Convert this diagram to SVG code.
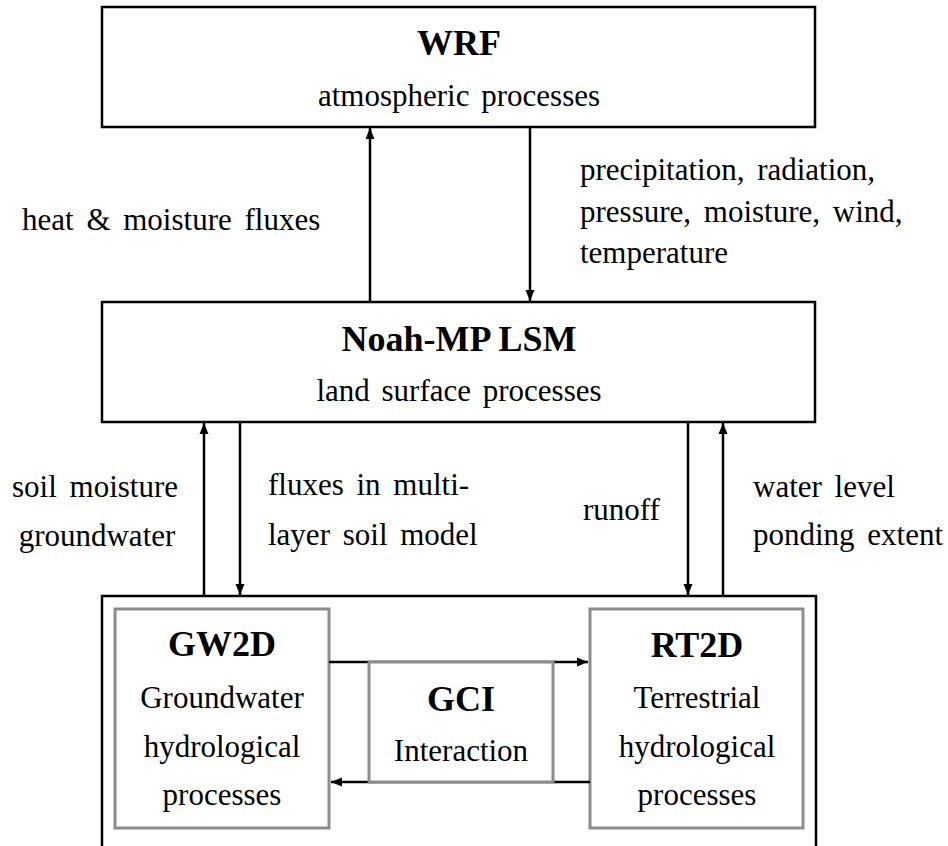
<svg xmlns="http://www.w3.org/2000/svg" width="948" height="846" viewBox="0 0 948 846">
<style>
  .box { fill: #fff; stroke: #000; stroke-width: 2.5; }
  .gbox { fill: #fff; stroke: #8c8c8c; stroke-width: 3; }
  .title { font-family: "Liberation Serif", Tinos, "Times New Roman", "DejaVu Serif", serif; font-weight: 700; font-size: 36px; fill: #000; text-anchor: middle; }
  .sub { font-family: "Liberation Serif", Tinos, "Times New Roman", "DejaVu Serif", serif; font-weight: 400; font-style: normal; font-size: 31px; fill: #000; text-anchor: middle; word-spacing: 4px; }
  .lbl { font-family: "Liberation Serif", Tinos, "Times New Roman", "DejaVu Serif", serif; font-weight: 400; font-style: normal; font-size: 31px; fill: #000; word-spacing: 5px; }
  .conn line { stroke: #000; stroke-width: 2.5; fill: none; }
</style>
<defs>
  <marker id="ah" markerUnits="userSpaceOnUse" markerWidth="12" markerHeight="10" refX="11" refY="5" orient="auto">
    <path d="M0,0.5 L11,5 L0,9.5 z" fill="#000"/>
  </marker>
</defs>

<g id="hydro-frame">
  <path d="M102,850 V596 H816 V850" fill="none" stroke="#000" stroke-width="2.5"/>
</g>

<g id="wrf">
  <rect class="box" x="102" y="7" width="713" height="120"/>
  <text class="title" x="459" y="55">WRF</text>
  <text class="sub" x="459" y="106">atmospheric processes</text>
</g>

<g id="noahmp">
  <rect class="box" x="102" y="302" width="713" height="120"/>
  <text class="title" x="459" y="351">Noah-MP LSM</text>
  <text class="sub" x="459" y="401">land surface processes</text>
</g>

<g id="gw2d">
  <rect class="gbox" x="115" y="609" width="214" height="219"/>
  <text class="title" x="222" y="656">GW2D</text>
  <text class="sub" x="222" y="708">Groundwater</text>
  <text class="sub" x="222" y="757">hydrological</text>
  <text class="sub" x="222" y="805">processes</text>
</g>

<g id="rt2d">
  <rect class="gbox" x="590" y="609" width="213" height="219"/>
  <text class="title" x="697" y="657">RT2D</text>
  <text class="sub" x="697" y="708">Terrestrial</text>
  <text class="sub" x="697" y="757">hydrological</text>
  <text class="sub" x="697" y="805">processes</text>
</g>

<g id="connectors" class="conn">
  <line x1="370" y1="302" x2="370" y2="128" marker-end="url(#ah)"/>
  <line x1="530" y1="127" x2="530" y2="301" marker-end="url(#ah)"/>
  <line x1="204" y1="596" x2="204" y2="423" marker-end="url(#ah)"/>
  <line x1="240" y1="422" x2="240" y2="595" marker-end="url(#ah)"/>
  <line x1="688" y1="422" x2="688" y2="595" marker-end="url(#ah)"/>
  <line x1="723" y1="596" x2="723" y2="423" marker-end="url(#ah)"/>
  <line x1="329" y1="662" x2="588" y2="662" marker-end="url(#ah)"/>
  <line x1="590" y1="782" x2="331" y2="782" marker-end="url(#ah)"/>
</g>

<g id="gci">
  <rect class="gbox" x="369" y="662" width="184" height="120"/>
  <text class="title" x="461" y="711">GCI</text>
  <text class="sub" x="461" y="761">Interaction</text>
</g>

<g id="labels">
  <text class="lbl" x="22" y="230">heat &amp; moisture fluxes</text>
  <text class="lbl" x="580" y="180">precipitation, radiation,</text>
  <text class="lbl" x="580" y="222">pressure, moisture, wind,</text>
  <text class="lbl" x="580" y="263">temperature</text>
  <text class="lbl" x="95" y="497" text-anchor="middle">soil moisture</text>
  <text class="lbl" x="97" y="546" text-anchor="middle">groundwater</text>
  <text class="lbl" x="268" y="495">fluxes in multi-</text>
  <text class="lbl" x="268" y="545">layer soil model</text>
  <text class="lbl" x="583" y="520">runoff</text>
  <text class="lbl" x="753" y="497">water level</text>
  <text class="lbl" x="753" y="545">ponding extent</text>
</g>
</svg>
